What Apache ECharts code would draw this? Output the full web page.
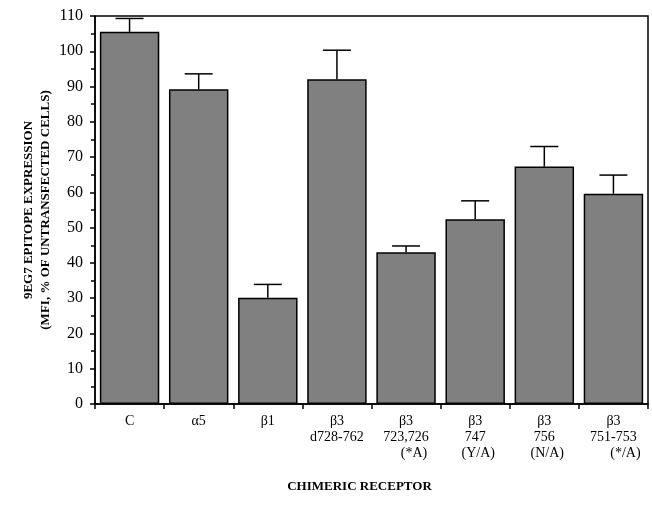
<!DOCTYPE html>
<html>
<head>
<meta charset="utf-8">
<script src="https://cdn.jsdelivr.net/npm/echarts@6/dist/echarts.min.js"></script>
<style>
  html, body { margin: 0; padding: 0; background: #fff; }
  #chart { width: 652px; height: 505px; }
</style>
</head>
<body>
<div id="chart"></div>
<script>
// 9EG7 表位表达 柱状图 + 误差棒
var categories = ["C", "α5", "β1", "β3\nd728-762", "β3\n723,726\n{o|(*A)}", "β3\n747\n{p|(Y/A)}", "β3\n756\n{p|(N/A)}", "β3\n751-753\n{q|(*/A)}"];
var barValues = [105.5, 89.2, 30.1, 92.1, 43.0, 52.4, 67.3, 59.6];
var errValues = [3.8, 4.4, 3.8, 8.2, 1.8, 5.2, 5.7, 5.3];
var yTicks = [0, 10, 20, 30, 40, 50, 60, 70, 80, 90, 100, 110];

var font = "Liberation Serif";
var chart = echarts.init(document.getElementById("chart"));

chart.setOption({
  animation: false,
  grid: {
    top: 16,
    bottom: 101,
    left: 95,
    right: 4,
    show: true,
    borderColor: "#000",
    borderWidth: 1.5
  },
  xAxis: {
    type: "category",
    data: categories,
    name: "CHIMERIC RECEPTOR",
    nameLocation: "middle",
    nameGap: 76,
    nameMoveOverlap: false,
    nameTextStyle: {
      fontFamily: font,
      fontWeight: "bold",
      fontSize: 13,
      color: "#000",
      padding: [0, 24, 0, 0]
    },
    axisLine: { lineStyle: { color: "#000", width: 1.5 } },
    axisTick: { show: true, length: 5, lineStyle: { color: "#000", width: 1.5 } },
    axisLabel: {
      fontFamily: font,
      fontSize: 14,
      color: "#000",
      margin: 9,
      lineHeight: 16,
      interval: 0,
      rich: {
        o: { fontFamily: font, fontSize: 14, lineHeight: 16, padding: [0, 0, 0, 16] },
        p: { fontFamily: font, fontSize: 14, lineHeight: 16, padding: [0, 0, 0, 6] },
        q: { fontFamily: font, fontSize: 14, lineHeight: 16, padding: [0, 0, 0, 24] }
      }
    }
  },
  yAxis: {
    type: "value",
    min: yTicks[0],
    max: yTicks[yTicks.length - 1],
    interval: 10,
    name: "9EG7 EPITOPE EXPRESSION\n(MFI, % OF UNTRANSFECTED CELLS)",
    nameLocation: "middle",
    nameRotate: 90,
    nameGap: 41,
    nameMoveOverlap: false,
    nameTextStyle: {
      fontFamily: font,
      fontWeight: "bold",
      fontSize: 13,
      color: "#000",
      lineHeight: 17
    },
    splitLine: { show: false },
    axisLine: { show: true, lineStyle: { color: "#000", width: 1.5 } },
    axisTick: { show: true, length: 5, lineStyle: { color: "#000", width: 1.5 } },
    minorTick: { show: true, splitNumber: 2, length: 4, lineStyle: { color: "#000", width: 1.5 } },
    axisLabel: {
      fontFamily: font,
      fontSize: 16,
      color: "#000",
      margin: 12
    }
  },
  series: [
    {
      type: "bar",
      data: barValues,
      barCategoryGap: "14%",
      itemStyle: {
        color: "#808080",
        borderColor: "#000",
        borderWidth: 1.5
      }
    },
    {
      type: "custom",
      data: barValues.map(function (v, i) { return [i, v, v + errValues[i]]; }),
      renderItem: function (params, api) {
        var base = api.coord([api.value(0), api.value(1)]);
        var top = api.coord([api.value(0), api.value(2)]);
        var half = 14;
        var style = { stroke: "#000", lineWidth: 1.5 };
        return {
          type: "group",
          children: [
            { type: "line", shape: { x1: base[0], y1: base[1], x2: top[0], y2: top[1] }, style: style },
            { type: "line", shape: { x1: top[0] - half, y1: top[1], x2: top[0] + half, y2: top[1] }, style: style }
          ]
        };
      },
      z: 5
    }
  ]
});
</script>
</body>
</html>
